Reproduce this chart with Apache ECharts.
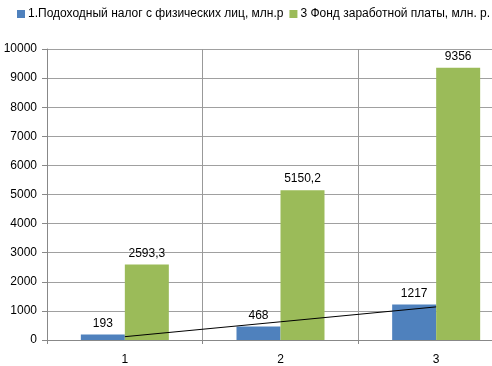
<!DOCTYPE html>
<html><head><meta charset="utf-8">
<script src="https://cdn.jsdelivr.net/npm/echarts@6/dist/echarts.min.js"></script>
<style>html,body{margin:0;padding:0;background:#fff;overflow:hidden;width:492px;height:366px}#c{width:515px;height:366px}</style>
</head><body><div id="c"></div>
<script>
const categories = ['1', '2', '3'];
const seriesNames = ['1.Подоходный налог с физических лиц, млн.р', '3 Фонд заработной платы, млн. р.'];
const incomeTax = [193, 468, 1217];
const payrollFund = [2593.3, 5150.2, 9356];
const yTicks = {min: 0, max: 10000, interval: 1000};

// linear trendline of the first series (Excel-style)
function trend(vals) {
  const n = vals.length, xs = vals.map((_, i) => i + 1);
  const mx = xs.reduce((a, b) => a + b, 0) / n, my = vals.reduce((a, b) => a + b, 0) / n;
  let sxy = 0, sxx = 0;
  for (let i = 0; i < n; i++) { sxy += (xs[i] - mx) * (vals[i] - my); sxx += (xs[i] - mx) ** 2; }
  const k = sxy / sxx, b = my - k * mx;
  return xs.map(x => k * x + b);
}
const fmt = v => String(v).replace('.', ',');
const font = 'Liberation Sans';
const chart = echarts.init(document.getElementById('c'), null, {renderer: 'canvas'});
chart.setOption({
  animation: false,
  textStyle: {fontFamily: font},
  legend: {
    top: 3, left: 12, itemWidth: 8, itemHeight: 8, itemGap: 6, icon: 'rect',
    textStyle: {fontFamily: font, fontSize: 12, color: '#000', padding: [0, 0, 0, -2]},
    data: seriesNames
  },
  grid: {left: 47, top: 49, width: 467, height: 295, containLabel: false},
  xAxis: {
    type: 'category', data: categories, boundaryGap: true,
    axisLine: {lineStyle: {color: '#888'}},
    axisTick: {show: true, length: 4, lineStyle: {color: '#888'}},
    splitLine: {show: true, lineStyle: {color: '#999'}},
    axisLabel: {color: '#000', fontSize: 12, fontFamily: font, margin: 14}
  },
  yAxis: {
    type: 'value', min: yTicks.min, max: yTicks.max, interval: yTicks.interval,
    axisLine: {show: true, lineStyle: {color: '#888'}},
    axisTick: {show: true, length: 5, lineStyle: {color: '#888'}},
    splitLine: {show: true, lineStyle: {color: '#a0a0a0'}},
    axisLabel: {color: '#000', fontSize: 12, fontFamily: font, margin: 10, formatter: v => String(v)}
  },
  series: [
    {
      name: seriesNames[0], type: 'bar', data: incomeTax, barWidth: 44, barGap: '0%',
      itemStyle: {color: '#4f81bd'},
      label: {show: true, position: 'top', distance: 5, color: '#000', fontSize: 12, fontFamily: font, formatter: p => fmt(p.value)}
    },
    {
      name: seriesNames[1], type: 'bar', data: payrollFund, barWidth: 44, barGap: '0%',
      itemStyle: {color: '#9bbb59'},
      label: {show: true, position: 'top', distance: 5, color: '#000', fontSize: 12, fontFamily: font, formatter: p => fmt(p.value)}
    },
    {
      name: 'trend', type: 'line', data: trend(incomeTax), symbol: 'none', z: 5,
      lineStyle: {color: '#000', width: 1}, silent: true
    }
  ]
});
</script></body></html>
